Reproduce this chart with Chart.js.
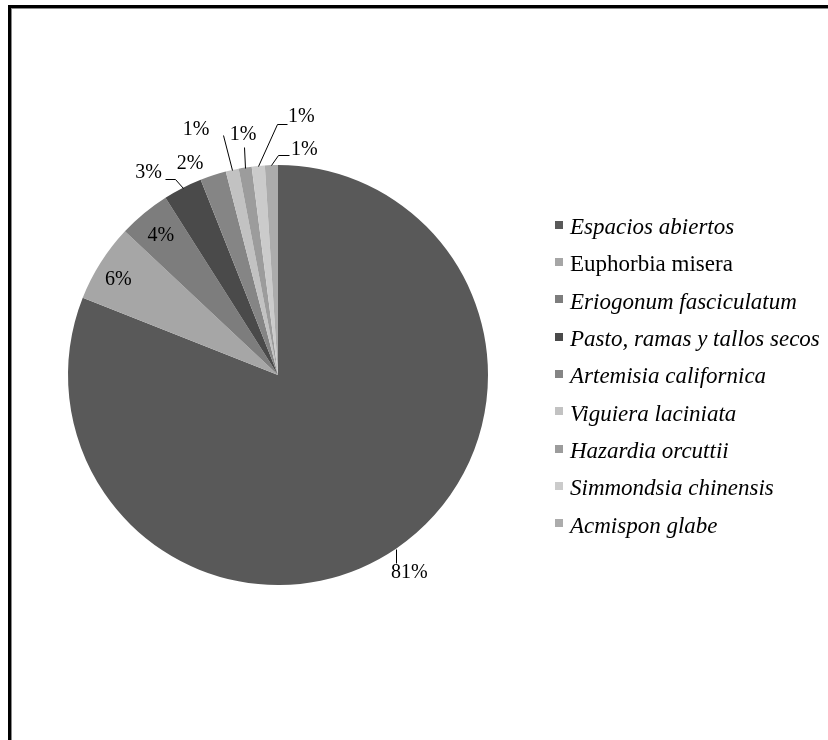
<!DOCTYPE html>
<html>
<head>
<meta charset="utf-8">
<script src="https://cdn.jsdelivr.net/npm/chart.js@4/dist/chart.umd.min.js"></script>
<style>
  html, body { margin: 0; padding: 0; background: #fff; }
  #wrap { position: relative; width: 828px; height: 740px; }
</style>
</head>
<body>
<div id="wrap"><canvas id="c" width="828" height="740"></canvas></div>
<script>
// Cobertura del suelo por especie (%)
const categories = [
  'Espacios abiertos',
  'Euphorbia misera',
  'Eriogonum fasciculatum',
  'Pasto, ramas y tallos secos',
  'Artemisia californica',
  'Viguiera laciniata',
  'Hazardia orcuttii',
  'Simmondsia chinensis',
  'Acmispon glabe'
];
const percentages = [81, 6, 4, 3, 2, 1, 1, 1, 1];

const sliceColors = ['#595959', '#a6a6a6', '#7d7d7d', '#4a4a4a', '#858585', '#c2c2c2', '#9c9c9c', '#cbcbcb', '#acacac'];
const italicNames = [true, false, true, true, true, true, true, true, true];

// Label placement: inside labels use a radius fraction; outside labels are
// offset from the slice's rim point, with an optional leader polyline.
const labelPlacement = [
  { dx: 15, dy: 24, leader: [[0, 0], [0, 14]], align: 'left', tx: -5 },
  { inside: 0.9, dy: 6 },
  { inside: 0.876, dy: 2 },
  { dx: -34, dy: -15, leader: [[0, 0], [-8, -9], [-18, -9]] },
  { dx: -23, dy: -12 },
  { dx: -36, dy: -40, leader: [[0, 0], [-9, -35]] },
  { dx: -2, dy: -33, leader: [[0, 0], [-1, -21]] },
  { dx: 43, dy: -49, leader: [[0, 0], [19, -42], [29, -42]] },
  { dx: 33, dy: -15, leader: [[0, 0], [7, -10], [18, -10]] }
];

const frame = {
  id: 'frame',
  beforeDraw(chart) {
    const ctx = chart.ctx;
    ctx.save();
    ctx.fillStyle = '#ffffff';
    ctx.fillRect(0, 0, chart.width, chart.height);
    ctx.fillStyle = '#000000';
    ctx.fillRect(8, 5, chart.width - 8, 3);
    ctx.fillRect(8, 5, 3, chart.height - 5);
    ctx.fillStyle = '#8a8a8a';
    ctx.fillRect(11, 8, chart.width - 11, 1);
    ctx.fillRect(11, 8, 1, chart.height - 8);
    ctx.restore();
  }
};

const sliceLabels = {
  id: 'sliceLabels',
  afterDatasetsDraw(chart) {
    const ctx = chart.ctx;
    const meta = chart.getDatasetMeta(0);
    ctx.save();
    ctx.font = '20px "Liberation Serif", "Times New Roman", serif';
    ctx.fillStyle = '#000';
    ctx.strokeStyle = '#000';
    ctx.lineWidth = 1;
    ctx.textBaseline = 'middle';
    meta.data.forEach((arc, i) => {
      const p = arc.getProps(['x', 'y', 'startAngle', 'endAngle', 'outerRadius'], true);
      const mid = (p.startAngle + p.endAngle) / 2;
      const place = labelPlacement[i];
      const text = percentages[i] + '%';
      if (place.inside) {
        const r = p.outerRadius * place.inside;
        ctx.textAlign = 'center';
        ctx.fillText(text, p.x + Math.cos(mid) * r, p.y + Math.sin(mid) * r + (place.dy || 0));
        return;
      }
      const ex = p.x + Math.cos(mid) * p.outerRadius;
      const ey = p.y + Math.sin(mid) * p.outerRadius;
      if (place.leader) {
        ctx.beginPath();
        place.leader.forEach(([lx, ly], k) => {
          const px = Math.round(ex + lx) + 0.5, py = Math.round(ey + ly) + 0.5;
          if (k === 0) ctx.moveTo(px, py); else ctx.lineTo(px, py);
        });
        ctx.stroke();
      }
      if (place.align === 'left') {
        ctx.textAlign = 'left';
        ctx.fillText(text, ex + (place.tx || 0), ey + place.dy);
      } else {
        ctx.textAlign = 'center';
        ctx.fillText(text, ex + place.dx, ey + place.dy);
      }
    });
    ctx.restore();
  }
};

const sideLegend = {
  id: 'sideLegend',
  afterDraw(chart) {
    const ctx = chart.ctx;
    const bg = chart.data.datasets[0].backgroundColor;
    const x0 = 555, y0 = 224.5, step = 37.35, box = 8;
    ctx.save();
    ctx.textBaseline = 'alphabetic';
    ctx.textAlign = 'left';
    chart.data.labels.forEach((name, i) => {
      const y = y0 + i * step;
      ctx.fillStyle = bg[i];
      ctx.fillRect(x0, Math.round(y - box / 2), box, box);
      ctx.fillStyle = '#000';
      ctx.font = (italicNames[i] ? 'italic ' : '') + '23px "Liberation Serif", "Times New Roman", serif';
      ctx.fillText(name, x0 + 15, y + 9.5);
    });
    ctx.restore();
  }
};

new Chart(document.getElementById('c'), {
  type: 'pie',
  data: {
    labels: categories,
    datasets: [{
      data: percentages,
      backgroundColor: sliceColors,
      borderWidth: 0
    }]
  },
  options: {
    responsive: false,
    animation: false,
    layout: { padding: { left: 68, right: 340, top: 165, bottom: 155 } },
    plugins: {
      legend: { display: false },
      tooltip: { enabled: false }
    }
  },
  plugins: [frame, sliceLabels, sideLegend]
});
</script>
</body>
</html>
